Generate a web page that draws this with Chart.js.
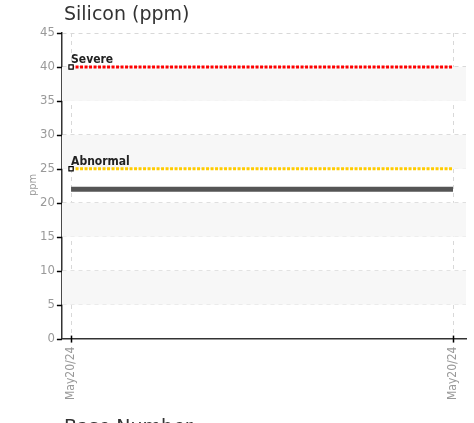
<!DOCTYPE html>
<html>
<head>
<meta charset="utf-8">
<script src="https://cdn.jsdelivr.net/npm/chart.js@4"></script>
<style>
  html, body { margin: 0; padding: 0; background: #fff; }
  #wrap { width: 474px; height: 423px; }
</style>
</head>
<body>
<div id="wrap"><canvas id="myChart"></canvas></div>
<script>
const dates = ["May20/24", "May20/24"];
const silicon = [22, 22];
const severe = [40, 40];
const abnormal = [25, 25];
const yTicks = [0, 5, 10, 15, 20, 25, 30, 35, 40, 45];
const bands = [[5, 10], [15, 20], [25, 30], [35, 40]];

const narrow = "'Liberation Sans Narrow', 'DejaVu Sans Condensed', sans-serif";

const bandPlugin = {
  id: "bands",
  beforeDatasetsDraw(chart) {
    const { ctx, chartArea, scales } = chart;
    ctx.save();
    ctx.fillStyle = "#f7f7f7";
    bands.forEach((b) => {
      const y1 = scales.y.getPixelForValue(b[1]);
      const y0 = scales.y.getPixelForValue(b[0]);
      ctx.fillRect(chartArea.left, y1, chartArea.right - chartArea.left, y0 - y1);
    });
    ctx.restore();
  },
};

const textPlugin = {
  id: "texts",
  afterDraw(chart) {
    const { ctx, scales, chartArea } = chart;
    ctx.save();
    // tick marks
    ctx.strokeStyle = "#000";
    ctx.lineWidth = 1.5;
    yTicks.forEach((v) => {
      const y = Math.round(scales.y.getPixelForValue(v)) + 0.5;
      ctx.beginPath();
      ctx.moveTo(chartArea.left - 5, y);
      ctx.lineTo(chartArea.left, y);
      ctx.stroke();
    });
    dates.forEach((d, i) => {
      const x = Math.round(scales.x.getPixelForValue(i)) + 0.5;
      ctx.beginPath();
      ctx.moveTo(x, chartArea.bottom - 3);
      ctx.lineTo(x, chartArea.bottom + 4);
      ctx.stroke();
    });
    ctx.fillStyle = "#333";
    ctx.font = "19px 'DejaVu Sans', sans-serif";
    ctx.textBaseline = "alphabetic";
    ctx.fillText("Silicon (ppm)", 64, 20);
    ctx.fillText("Base Number", 64, 433);
    ctx.font = "bold 12px " + narrow;
    ctx.fillStyle = "#222";
    const x0 = scales.x.getPixelForValue(0);
    ctx.fillText("Severe", x0, scales.y.getPixelForValue(severe[0]) - 4);
    ctx.fillText("Abnormal", x0, scales.y.getPixelForValue(abnormal[0]) - 4);
    // y title
    ctx.translate(36, 185);
    ctx.rotate(-Math.PI / 2);
    ctx.fillStyle = "#999";
    ctx.font = "11px " + narrow;
    ctx.textAlign = "center";
    ctx.fillText("ppm", 0, 0);
    ctx.restore();
  },
};

const ctx = document.getElementById("myChart");
const myLineChart = new Chart(ctx, {
  type: "line",
  data: {
    datasets: [
      {
        label: "Severe",
        data: severe.map((v, i) => ({ x: i, y: v })),
        borderColor: "#ff0000",
        borderWidth: 3,
        borderDash: [3, 1.5],
        pointRadius: [3, 0],
        pointStyle: "rect",
        pointBackgroundColor: "#fff",
        pointBorderColor: "#000",
        pointBorderWidth: 1.2,
      },
      {
        label: "Abnormal",
        data: abnormal.map((v, i) => ({ x: i, y: v })),
        borderColor: "#ffcc00",
        borderWidth: 3,
        borderDash: [3, 1.5],
        pointRadius: [3, 0],
        pointStyle: "rect",
        pointBackgroundColor: "#fff",
        pointBorderColor: "#000",
        pointBorderWidth: 1.2,
      },
      {
        label: "Silicon",
        data: silicon.map((v, i) => ({ x: i, y: v })),
        borderColor: "#555555",
        borderWidth: 5,
        pointRadius: 0,
      },
    ],
  },
  options: {
    responsive: true,
    maintainAspectRatio: false,
    animation: false,
    layout: { padding: { top: 33, right: 8, bottom: 19, left: 37 } },
    plugins: {
      legend: { display: false },
      tooltip: { enabled: false },
    },
    scales: {
      x: {
        type: "linear",
        min: -0.024,
        max: 1.034,
        afterBuildTicks: (s) => {
          s.ticks = dates.map((d, i) => ({ value: i }));
        },
        ticks: {
          callback: (v) => dates[v],
          minRotation: 90,
          maxRotation: 90,
          color: "#999",
          font: { family: narrow, size: 12 },
          padding: 4,
        },
        grid: { color: "#d8d8d8", tickColor: "rgba(0,0,0,0)", tickLength: 4 },
        border: { color: "#333", width: 1.5, dash: [4, 4] },
      },
      y: {
        min: 0,
        max: 45,
        afterBuildTicks: (s) => {
          s.ticks = yTicks.map((v) => ({ value: v }));
        },
        ticks: {
          color: "#999",
          font: { family: narrow, size: 13 },
          padding: 3,
        },
        grid: { color: "#d8d8d8", tickColor: "rgba(0,0,0,0)", tickLength: 4 },
        border: { color: "#333", width: 1.5, dash: [4, 4] },
      },
    },
  },
  plugins: [bandPlugin, textPlugin],
});
</script>
</body>
</html>
